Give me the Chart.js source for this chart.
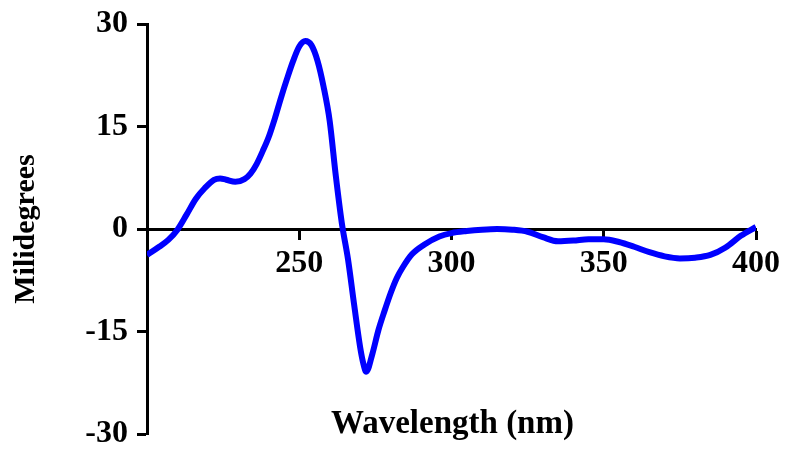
<!DOCTYPE html>
<html>
<head>
<meta charset="utf-8">
<title>CD spectrum</title>
<script src="https://cdn.jsdelivr.net/npm/chart.js@4.4.1/dist/chart.umd.min.js"></script>
<style>
	html, body { margin: 0; padding: 0; background: #fff; }
</style>
</head>
<body>
<canvas id="myChart" width="787" height="451"></canvas>
<script>
// wavelength (nm) and signal (mdeg)
const wavelength = [200, 204, 207, 210, 213, 216, 219, 222, 224, 226, 229, 232, 234, 236, 238, 240, 242, 244, 246, 248, 250, 252, 254, 256, 258, 260, 262, 264, 266, 268, 270, 271, 272, 274, 276, 278, 280, 282, 284, 287, 291, 296, 300, 305, 310, 315, 320, 325, 330, 335, 340, 345, 350, 355, 360, 365, 370, 375, 380, 385, 390, 395, 400];
const millidegrees = [-3.8, -2.6, -1.6, -0.1, 2.1, 4.4, 6.0, 7.2, 7.4, 7.2, 6.9, 7.3, 8.1, 9.5, 11.4, 13.5, 16.2, 19.2, 22.0, 24.6, 26.7, 27.5, 26.9, 24.6, 20.8, 15.8, 7.8, 0.8, -4.4, -11.0, -17.3, -19.6, -20.9, -18.3, -14.8, -12.0, -9.4, -7.2, -5.6, -3.7, -2.3, -1.1, -0.6, -0.3, -0.1, 0, -0.1, -0.4, -1.2, -1.8, -1.7, -1.5, -1.5, -1.9, -2.6, -3.4, -4.0, -4.3, -4.2, -3.8, -2.7, -1.0, 0.3];
const xTickValues = [250, 300, 350, 400];
const yTickValues = [-30, -15, 0, 15, 30];

const serif = '"Liberation Serif", "Times New Roman", serif';
Chart.defaults.color = '#000';

// x title sits inside the plot area, so draw it by hand
const xTitlePlugin = {
	id: 'xTitle',
	afterDraw(chart) {
		const c = chart.ctx;
		const area = chart.chartArea;
		c.save();
		c.font = 'bold 33px ' + serif;
		c.fillStyle = '#000';
		c.textAlign = 'center';
		c.textBaseline = 'alphabetic';
		c.fillText('Wavelength (nm)', (area.left + area.right) / 2 + 1, area.bottom - 1);
		c.restore();
	}
};

const points = wavelength.map((w, i) => ({ x: w, y: millidegrees[i] }));

const ctx = document.getElementById('myChart');
new Chart(ctx, {
	type: 'line',
	data: {
		datasets: [{
			label: 'CD',
			data: points,
			borderColor: '#0000ff',
			borderWidth: 6,
			pointRadius: 0,
			fill: false,
			cubicInterpolationMode: 'monotone'
		}]
	},
	options: {
		responsive: false,
		animation: false,
		layout: { padding: { left: 0, right: 29, top: 24, bottom: 17 } },
		plugins: { legend: { display: false }, tooltip: { enabled: false } },
		scales: {
			x: {
				type: 'linear',
				position: { y: 0 },
				min: 200,
				max: 400,
				afterBuildTicks: (axis) => { axis.ticks = xTickValues.map(v => ({ value: v })); },
				ticks: { font: { family: serif, size: 32, weight: 'bold' }, padding: 7, maxRotation: 0 },
				grid: { drawOnChartArea: false, drawTicks: true, tickLength: 9, tickWidth: 3, color: '#000' },
				border: { display: true, width: 3, color: '#000' }
			},
			y: {
				position: 'left',
				min: -30,
				max: 30,
				afterBuildTicks: (axis) => { axis.ticks = yTickValues.map(v => ({ value: v })); },
				afterFit: (axis) => {
					axis.width = 147;
					// keep the label overflow from shrinking the plot
					axis.paddingTop = 0;
					axis.paddingBottom = 0;
				},
				ticks: { font: { family: serif, size: 32, weight: 'bold' }, padding: 9 },
				grid: { drawOnChartArea: false, drawTicks: true, tickLength: 10, tickWidth: 3, color: '#000' },
				border: { display: true, width: 3, color: '#000' },
				title: {
					display: true,
					text: 'Milidegrees',
					font: { family: serif, size: 30, weight: 'bold' },
					padding: { top: 8, bottom: 0 }
				}
			}
		}
	},
	plugins: [xTitlePlugin]
});
</script>
</body>
</html>
